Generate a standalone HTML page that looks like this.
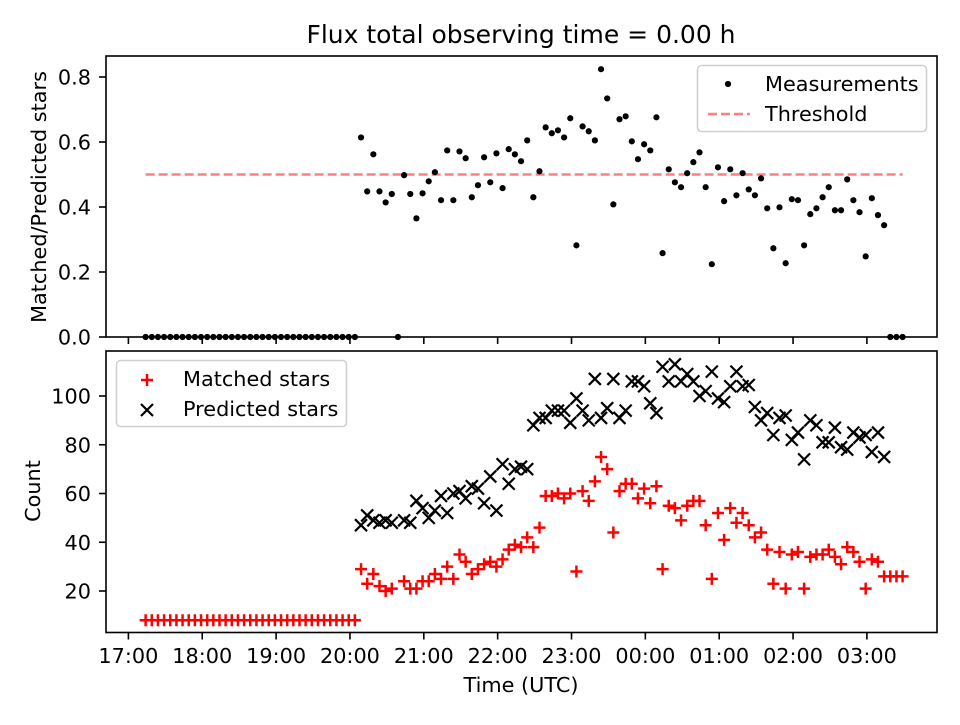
<!DOCTYPE html>
<html><head><meta charset="utf-8"><style>
body{margin:0;background:#fff}
svg text{font-family:"DejaVu Sans","Liberation Sans",sans-serif;fill:#000}
</style></head><body>
<svg id="chart" width="960" height="720" viewBox="0 0 960 720" xmlns="http://www.w3.org/2000/svg">
<rect width="960" height="720" fill="#fff"/>
<text x="521" y="43" font-size="25" text-anchor="middle">Flux total observing time = 0.00 h</text>
<g id="topPanel"></g>
<g id="botPanel"></g>
</svg>
<script>
// times in minutes after 17:00 (UTC)
const times=[14,19,24,29,34,39,44,49,54,59,64,69,74,79,84,89,94,99,104,109,114,119,124,129,134,139,144,149,154,159,164,169,174,179,184,
189,194,199,204,209,214,219,224,229,234,239,244,249,254,259,264,269,274,279,284,289,294,299,304,309,314,319,324,329,334,339,344,349,354,359,364,369,374,379,384,389,394,399,404,409,414,419,424,429,434,439,444,449,454,459,464,469,474,479,484,489,494,499,504,509,514,519,524,529,534,539,544,549,554,559,564,569,574,579,584,589,594,599,604,609,614,619,624,629];
const ratio=[0,0,0,0,0,0,0,0,0,0,0,0,0,0,0,0,0,0,0,0,0,0,0,0,0,0,0,0,0,0,0,0,0,0,0,
0.614,0.448,0.562,0.448,0.414,0.44,0,0.498,0.44,0.365,0.442,0.479,0.507,0.421,0.574,0.421,0.571,0.55,0.43,0.467,0.553,0.476,0.565,0.458,0.578,0.562,0.541,0.605,0.43,0.51,
0.645,0.627,0.636,0.614,0.673,0.282,0.648,0.633,0.605,0.824,0.734,0.408,0.67,0.679,0.602,0.547,0.593,0.574,0.676,0.258,0.516,0.476,0.461,0.504,0.538,0.568,0.461,0.224,0.522,
0.418,0.516,0.436,0.504,0.454,0.436,0.488,0.396,0.273,0.399,0.227,0.424,0.421,0.282,0.378,0.396,0.43,0.461,0.39,0.39,0.485,0.421,0.384,0.248,0.427,0.375,0.344,0,0,0];
const matched=[8,8,8,8,8,8,8,8,8,8,8,8,8,8,8,8,8,8,8,8,8,8,8,8,8,8,8,8,8,8,8,8,8,8,8,
29,23,27,22,20,21,null,24,21,21,24,24,27,25,30,25,35,32,27,29,31,32,30,33,37,39,38,42,38,46,
59,59,60,58,60,28,61,57,65,75,70,44,61,64,64,58,62,56,63,29,55,54,49,55,57,57,47,25,52,
41,54,48,52,47,42,44,37,23,36,21,35,36,21,34,35,35,37,34,31,38,36,32,21,33,32,26,26,26,26];
const predicted=[null,null,null,null,null,null,null,null,null,null,null,null,null,null,null,null,null,null,null,null,null,null,null,null,null,null,null,null,null,null,null,null,null,null,null,
47,51,49,48,49,48,null,49,48,57,54,50,53,59,52,60,61,58,63,62,56,67,53,72,64,70,71,70,88,91,
91,94,94,94,89,99,94,90,107,91,95,107,91,94,106,106,104,97,93,112,106,113,106,109,106,100,102,110,99,
97.5,104,110,104,104.5,95.5,90,93,84,91,92,82,85,74,90,88,81,81,87,79,78,85,83,84,77,85,75,null,null,null];
const xTicks=[0,60,120,180,240,300,360,420,480,540,600];
const xTickLabels=["17:00","18:00","19:00","20:00","21:00","22:00","23:00","00:00","01:00","02:00","03:00"];
const topTicks=[0,0.2,0.4,0.6,0.8];
const botTicks=[20,40,60,80,100];
const threshold=0.5;

const NS="http://www.w3.org/2000/svg";
const L=106,R=937,FS=20.8;
const xs=t=>128.4+t*73.85/60;
const yTop=v=>337-v*325;
const yBot=v=>591-(v-20)*195/80;
function mk(tag,attrs,parent){const e=document.createElementNS(NS,tag);for(const k in attrs)e.setAttribute(k,attrs[k]);parent.appendChild(e);return e;}
const topG=document.getElementById('topPanel'), botG=document.getElementById('botPanel');

let f1=mk('rect',{x:L,y:56,width:R-L,height:281,fill:'none',stroke:'#000','stroke-width':1.6},topG);


let f2=mk('rect',{x:L,y:351,width:R-L,height:281.5,fill:'none',stroke:'#000','stroke-width':1.6},botG);



xTicks.forEach((t,i)=>{
  const x=xs(t);
  let a=mk('line',{x1:x,x2:x,y1:337,y2:344,stroke:'#000','stroke-width':1.6},topG);
  
  
  let b=mk('line',{x1:x,x2:x,y1:632.5,y2:639.5,stroke:'#000','stroke-width':1.6},botG);
  
  
  let tx=mk('text',{x:x,y:663,'font-size':FS,'text-anchor':'middle'},botG);
  tx.textContent=xTickLabels[i];
  
  
});
topTicks.forEach(v=>{
  const y=yTop(v);
  let a=mk('line',{x1:L-7,x2:L,y1:y,y2:y,stroke:'#000','stroke-width':1.6},topG);
  
  
  let tx=mk('text',{x:91,y:y+7.5,'font-size':FS,'text-anchor':'end'},topG);
  tx.textContent=v.toFixed(1);
  
  
});
botTicks.forEach(v=>{
  const y=yBot(v);
  let a=mk('line',{x1:L-7,x2:L,y1:y,y2:y,stroke:'#000','stroke-width':1.6},botG);
  
  
  let tx=mk('text',{x:91,y:y+7.5,'font-size':FS,'text-anchor':'end'},botG);
  tx.textContent=String(v);
  
  
});
let t1=mk('text',{x:0,y:0,'font-size':FS,'text-anchor':'middle',transform:'translate(46,197) rotate(-90)'},topG);
t1.textContent='Matched/Predicted stars';


let t2=mk('text',{x:0,y:0,'font-size':FS,'text-anchor':'middle',transform:'translate(40,491) rotate(-90)'},botG);
t2.textContent='Count';


let t3=mk('text',{x:521,y:692,'font-size':FS,'text-anchor':'middle'},botG);
t3.textContent='Time (UTC)';



let th=mk('line',{x1:xs(times[0]),x2:xs(times[times.length-1]),y1:yTop(threshold),y2:yTop(threshold),stroke:'#ff7f7f','stroke-width':2.5,'stroke-dasharray':'9,4'},topG);



times.forEach((t,i)=>{
  if(ratio[i]==null)return;
  let c=mk('circle',{cx:xs(t),cy:yTop(ratio[i]),r:3.1,fill:'#000'},topG);
  
  
});
times.forEach((t,i)=>{
  if(predicted[i]==null)return;
  const x=xs(t),y=yBot(predicted[i]),s=6;
  let p=mk('path',{d:`M${x-s} ${y-s}L${x+s} ${y+s}M${x-s} ${y+s}L${x+s} ${y-s}`,stroke:'#000','stroke-width':2.2},botG);
  
  
});
times.forEach((t,i)=>{
  if(matched[i]==null)return;
  const x=xs(t),y=yBot(matched[i]),s=6;
  let p=mk('path',{d:`M${x-s} ${y}L${x+s} ${y}M${x} ${y-s}L${x} ${y+s}`,stroke:'#f00','stroke-width':2.5},botG);
  
  
});

let lg1=mk('g',{},topG);


mk('rect',{x:697.5,y:65.5,width:229,height:66,rx:4,fill:'#fff','fill-opacity':0.8,stroke:'#d0d0d0','stroke-width':1.6},lg1);
let ld=mk('circle',{cx:728,cy:84,r:3.1,fill:'#000'},lg1);


let lt=mk('text',{x:765,y:91,'font-size':FS},lg1);lt.textContent='Measurements';


let ll=mk('line',{x1:708,x2:750,y1:114,y2:114,stroke:'#ff7f7f','stroke-width':2.5,'stroke-dasharray':'9,4'},lg1);


let lt2=mk('text',{x:765,y:121,'font-size':FS},lg1);lt2.textContent='Threshold';



let lg2=mk('g',{},botG);


mk('rect',{x:116.5,y:360.5,width:230,height:66,rx:4,fill:'#fff','fill-opacity':0.8,stroke:'#d0d0d0','stroke-width':1.6},lg2);
let m1=mk('path',{d:'M141 380L153 380M147 374L147 386',stroke:'#f00','stroke-width':2.5},lg2);


let lt3=mk('text',{x:183,y:386,'font-size':FS},lg2);lt3.textContent='Matched stars';


let m2=mk('path',{d:'M141 404L153 416M141 416L153 404',stroke:'#000','stroke-width':2.2},lg2);


let lt4=mk('text',{x:183,y:416,'font-size':FS},lg2);lt4.textContent='Predicted stars';


</script>
</body></html>
